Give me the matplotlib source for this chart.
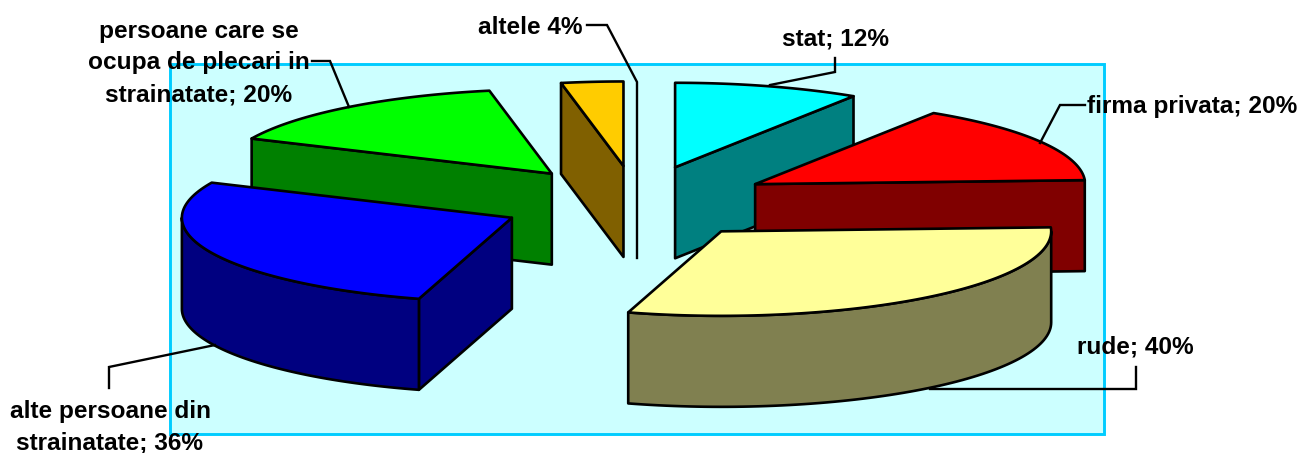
import numpy as np
import matplotlib
matplotlib.use('Agg')
import matplotlib.pyplot as plt
from matplotlib.patches import Polygon, Rectangle

plt.rcParams['font.family'] = ['Liberation Sans', 'DejaVu Sans']

# data, clockwise from 12 o'clock
names = ['stat', 'firma privata', 'rude', 'alte persoane din strainatate',
         'persoane care se ocupa de plecari in strainatate', 'altele']
values = [12, 20, 40, 36, 20, 4]
top_colors = ['#00FFFF', '#FF0000', '#FFFF99', '#0000FF', '#00FF00', '#FFCC00']
side_colors = ['#008080', '#800000', '#808050', '#000080', '#008000', '#806000']

# pie geometry in pixels
cx, cy = 636.5, 202.5
rx, ry = 330, 84.5
ex, ey = 137, 36.7
depth = 91


def project(a, ox, oy, scale=1.0):
    return ox + scale * rx * np.sin(a), oy - scale * ry * np.cos(a)


fig = plt.figure(figsize=(13.03, 4.53), dpi=100)
ax = fig.add_axes([0, 0, 1, 1])
ax.set_xlim(0, 1303)
ax.set_ylim(453, 0)
ax.axis('off')

ax.add_patch(Rectangle((170, 64), 934, 370, fc='#CCFFFF', ec='#00CCFF', lw=2.1, zorder=1))

edges = np.radians(np.concatenate([[0], np.cumsum(values)]) / np.sum(values) * 360)

# back to front
order = [0, 5, 4, 1, 3, 2]
z = 2
for i in order:
    a0, a1 = edges[i], edges[i + 1]
    mid = (a0 + a1) / 2
    ox = cx + ex * np.sin(mid)
    oy = cy - ey * np.cos(mid)
    style = dict(ec='black', lw=1.9, joinstyle='round')

    # radial faces that look towards the viewer
    for a, visible in ((a0, np.sin(a0) < -1e-6), (a1, np.sin(a1) > 1e-6)):
        if visible:
            x, y = project(a, ox, oy)
            ax.add_patch(Polygon([(ox, oy), (x, y), (x, y + depth), (ox, oy + depth)],
                                 fc=side_colors[i], zorder=z, **style))
            z += 1

    # outer wall, only the front half of the rim
    lo, hi = max(a0, np.pi / 2), min(a1, 3 * np.pi / 2)
    if hi > lo:
        t = np.linspace(lo, hi, 80)
        x, y = project(t, ox, oy)
        wall = np.column_stack([np.r_[x, x[::-1]], np.r_[y, y[::-1] + depth]])
        ax.add_patch(Polygon(wall, fc=side_colors[i], zorder=z, **style))
        z += 1

    # top
    t = np.linspace(a0, a1, 80)
    x, y = project(t, ox, oy)
    ax.add_patch(Polygon(np.column_stack([np.r_[ox, x], np.r_[oy, y]]),
                         fc=top_colors[i], zorder=z, **style))
    z += 1

# leader lines
leaders = [
    ([770, 835, 835], [85, 72, 58]),
    ([1040, 1060, 1085], [143, 105, 105]),
    ([930, 1136, 1136], [389, 389, 367]),
    ([215, 109, 109], [345, 367, 388]),
    ([349, 330, 312], [107, 61, 61]),
    ([637, 637, 607, 587], [258, 82, 25, 25]),
]
for lx, ly in leaders:
    ax.plot(lx, ly, color='black', lw=1.7, zorder=z, solid_joinstyle='miter')

label_style = dict(fontsize=17.6, fontweight='bold', color='black', va='center',
                   zorder=z + 1, linespacing=1.48)
ax.text(835, 39, f'{names[0]}; {values[0]}%', ha='center', **label_style)
ax.text(1087, 107, f'{names[1]}; {values[1]}%', ha='left', **label_style)
ax.text(1077, 347, f'{names[2]}; {values[2]}%', ha='left', **label_style)
ax.text(110, 427, f'alte persoane din\nstrainatate; {values[3]}%', ha='center', multialignment='center', **label_style)
ax.text(199, 63, f'persoane care se\nocupa de plecari in\nstrainatate; {values[4]}%', ha='center', multialignment='center', **label_style)
ax.text(583, 28, f'{names[5]} {values[5]}%', ha='right', **label_style)

fig.savefig('out.png', dpi=100)
